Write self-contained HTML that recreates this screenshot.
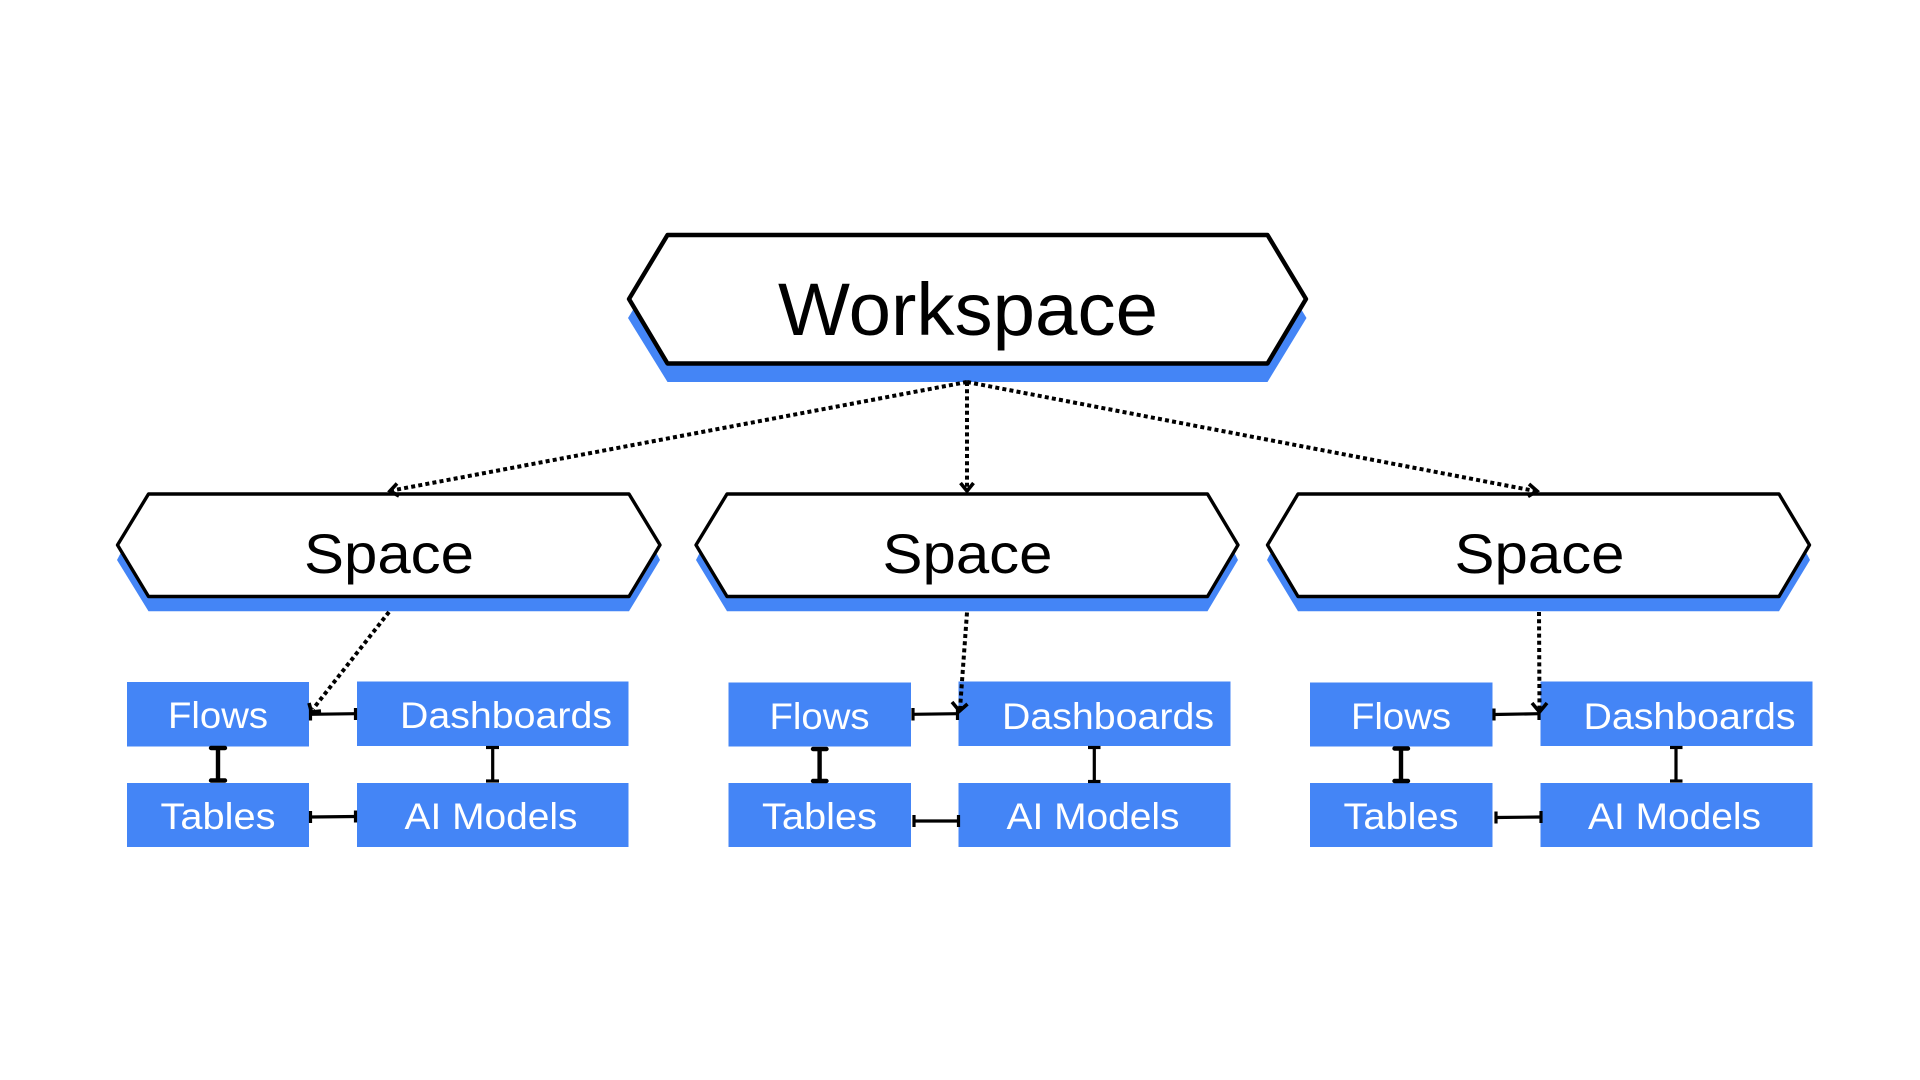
<!DOCTYPE html>
<html lang="en">
<head>
<meta charset="utf-8">
<title>Workspace diagram</title>
<style>
html,body{margin:0;padding:0;background:#fff;width:1920px;height:1080px;overflow:hidden}
svg{display:block}
text{font-family:"Liberation Sans",sans-serif}
.lb{fill:#fff;font-size:37px}
.sp{fill:#000;font-size:56px}
.dot{stroke:#000;stroke-width:4;stroke-dasharray:4 3.2;fill:none}
.chev{stroke:#000;stroke-width:3.6;fill:none}
.c{stroke:#000;stroke-width:3.2;fill:none}
.v1{stroke:#000;stroke-width:4.4;fill:none}
.cap{stroke:#000;stroke-width:4.4;stroke-linecap:round;fill:none}
</style>
</head>
<body>
<svg width="1920" height="1080" viewBox="0 0 1920 1080" xmlns="http://www.w3.org/2000/svg">
<rect width="1920" height="1080" fill="#fff"/>

<!-- Workspace -->
<polygon points="628,318 667.5,254 1267.5,254 1306.5,318 1267.5,382 667.5,382" fill="#4485F6"/>
<polygon points="629,299 667.5,235 1267.5,235 1306,299 1267.5,363.5 667.5,363.5" fill="#fff" stroke="#000" stroke-width="4.4" stroke-linejoin="round"/>
<text x="778" y="335" font-size="74" textLength="380" lengthAdjust="spacingAndGlyphs" fill="#000">Workspace</text>

<!-- Spaces -->
<polygon points="117,560 148.5,611.3 629,611.3 660,560 629,500 148.5,500" fill="#4485F6"/>
<polygon points="117.5,545 148.5,494 629,494 660,545 629,596.5 148.5,596.5" fill="#fff" stroke="#000" stroke-width="3.4" stroke-linejoin="round"/>
<text class="sp" x="304" y="573" textLength="170" lengthAdjust="spacingAndGlyphs">Space</text>

<polygon points="696,560 727,611.3 1207.5,611.3 1238,560 1207.5,500 727,500" fill="#4485F6"/>
<polygon points="696,545 727,494 1207.5,494 1238,545 1207.5,596.5 727,596.5" fill="#fff" stroke="#000" stroke-width="3.4" stroke-linejoin="round"/>
<text class="sp" x="882.5" y="573" textLength="170" lengthAdjust="spacingAndGlyphs">Space</text>

<polygon points="1267,560 1298,611.3 1779,611.3 1810,560 1779,500 1298,500" fill="#4485F6"/>
<polygon points="1267.5,545 1298,494 1779,494 1809.5,545 1779,596.5 1298,596.5" fill="#fff" stroke="#000" stroke-width="3.4" stroke-linejoin="round"/>
<text class="sp" x="1454.5" y="573" textLength="170" lengthAdjust="spacingAndGlyphs">Space</text>

<!-- Boxes: left -->
<rect x="127" y="682" width="182" height="64.5" fill="#4485F6"/>
<rect x="357" y="681.5" width="271.5" height="64.5" fill="#4485F6"/>
<rect x="127" y="783" width="182" height="64" fill="#4485F6"/>
<rect x="357" y="783" width="271.5" height="64" fill="#4485F6"/>
<text class="lb" x="168" y="728" textLength="100" lengthAdjust="spacingAndGlyphs">Flows</text>
<text class="lb" x="400" y="728" textLength="212" lengthAdjust="spacingAndGlyphs">Dashboards</text>
<text class="lb" x="160.5" y="829" textLength="115" lengthAdjust="spacingAndGlyphs">Tables</text>
<text class="lb" x="404.5" y="829" textLength="173" lengthAdjust="spacingAndGlyphs">AI Models</text>

<!-- Boxes: middle -->
<rect x="728.5" y="682.5" width="182.5" height="64" fill="#4485F6"/>
<rect x="958.5" y="681.5" width="272" height="64.5" fill="#4485F6"/>
<rect x="728.5" y="783" width="182.5" height="64" fill="#4485F6"/>
<rect x="958.5" y="783" width="272" height="64" fill="#4485F6"/>
<text class="lb" x="769.5" y="729" textLength="100" lengthAdjust="spacingAndGlyphs">Flows</text>
<text class="lb" x="1002" y="729" textLength="212" lengthAdjust="spacingAndGlyphs">Dashboards</text>
<text class="lb" x="762" y="829" textLength="115" lengthAdjust="spacingAndGlyphs">Tables</text>
<text class="lb" x="1006.5" y="829" textLength="173" lengthAdjust="spacingAndGlyphs">AI Models</text>

<!-- Boxes: right -->
<rect x="1310" y="682.5" width="182.5" height="64" fill="#4485F6"/>
<rect x="1540.5" y="681.5" width="272" height="64.5" fill="#4485F6"/>
<rect x="1310" y="783" width="182.5" height="64" fill="#4485F6"/>
<rect x="1540.5" y="783" width="272" height="64" fill="#4485F6"/>
<text class="lb" x="1351" y="729" textLength="100" lengthAdjust="spacingAndGlyphs">Flows</text>
<text class="lb" x="1583.5" y="729" textLength="212" lengthAdjust="spacingAndGlyphs">Dashboards</text>
<text class="lb" x="1343.5" y="829" textLength="115" lengthAdjust="spacingAndGlyphs">Tables</text>
<text class="lb" x="1588" y="829" textLength="173" lengthAdjust="spacingAndGlyphs">AI Models</text>

<!-- Dotted connectors -->
<line class="dot" x1="967" y1="382" x2="392" y2="490.5"/>
<polyline class="chev" points="397,483.5 390,491 399,496"/>
<line class="dot" x1="967" y1="382" x2="967" y2="490"/>
<polyline class="chev" points="960.5,483 967,491 973.5,483"/>
<line class="dot" x1="967" y1="382" x2="1535" y2="491"/>
<polyline class="chev" points="1529,484 1537,491 1528,496.5"/>

<line class="dot" x1="389" y1="612" x2="313" y2="709"/>
<polyline class="chev" points="309,703 311.5,712 321,711"/>
<line class="dot" x1="967" y1="612.5" x2="960" y2="709"/>
<polyline class="chev" points="952,702 959.5,711 967.5,704"/>
<line class="dot" x1="1539" y1="612" x2="1539.5" y2="710"/>
<polyline class="chev" points="1532,703 1539.5,712 1547,703"/>

<!-- Left solid connectors -->
<line class="c" x1="310.5" y1="714.3" x2="355.5" y2="713.7"/>
<line class="c" x1="310.5" y1="708" x2="310.5" y2="720.5"/>
<line class="c" x1="355.5" y1="708" x2="355.5" y2="720"/>
<line class="c" x1="310.5" y1="817" x2="355.5" y2="816.5"/>
<line class="c" x1="310.5" y1="811" x2="310.5" y2="823"/>
<line class="c" x1="355.5" y1="810.5" x2="355.5" y2="822.5"/>
<line class="v1" x1="218" y1="748" x2="218" y2="780"/>
<line class="cap" x1="211" y1="748" x2="225" y2="748"/>
<line class="cap" x1="211" y1="780.5" x2="225" y2="780.5"/>
<line class="c" x1="492.7" y1="748" x2="492.7" y2="781"/>
<line class="c" x1="486" y1="747.5" x2="499" y2="747.5"/>
<line class="c" x1="486" y1="781" x2="499" y2="781"/>

<!-- Middle solid connectors -->
<line class="c" x1="913" y1="714.3" x2="957.5" y2="713.7"/>
<line class="c" x1="913" y1="708" x2="913" y2="720.5"/>
<line class="c" x1="957.5" y1="708" x2="957.5" y2="720"/>
<line class="c" x1="914" y1="821" x2="958.5" y2="821"/>
<line class="c" x1="914" y1="815" x2="914" y2="827"/>
<line class="c" x1="958.5" y1="815" x2="958.5" y2="827"/>
<line class="v1" x1="819.6" y1="749" x2="819.6" y2="781"/>
<line class="cap" x1="813" y1="749" x2="826.5" y2="749"/>
<line class="cap" x1="813" y1="781" x2="826.5" y2="781"/>
<line class="c" x1="1094.3" y1="748" x2="1094.3" y2="781"/>
<line class="c" x1="1088" y1="747.5" x2="1100.5" y2="747.5"/>
<line class="c" x1="1088" y1="781.5" x2="1100.5" y2="781.5"/>

<!-- Right solid connectors -->
<line class="c" x1="1494" y1="714.5" x2="1539" y2="713.7"/>
<line class="c" x1="1494" y1="708.5" x2="1494" y2="720.5"/>
<line class="c" x1="1539" y1="708" x2="1539" y2="720"/>
<line class="c" x1="1496" y1="817.5" x2="1541" y2="817"/>
<line class="c" x1="1496" y1="811.5" x2="1496" y2="823.5"/>
<line class="c" x1="1541" y1="811" x2="1541" y2="823"/>
<line class="v1" x1="1401" y1="748" x2="1401" y2="781"/>
<line class="cap" x1="1394.5" y1="748.5" x2="1408" y2="748.5"/>
<line class="cap" x1="1394.5" y1="781" x2="1408" y2="781"/>
<line class="c" x1="1676" y1="747.5" x2="1676" y2="781"/>
<line class="c" x1="1670" y1="747.5" x2="1682.5" y2="747.5"/>
<line class="c" x1="1670" y1="781" x2="1682.5" y2="781"/>
</svg>
</body>
</html>
